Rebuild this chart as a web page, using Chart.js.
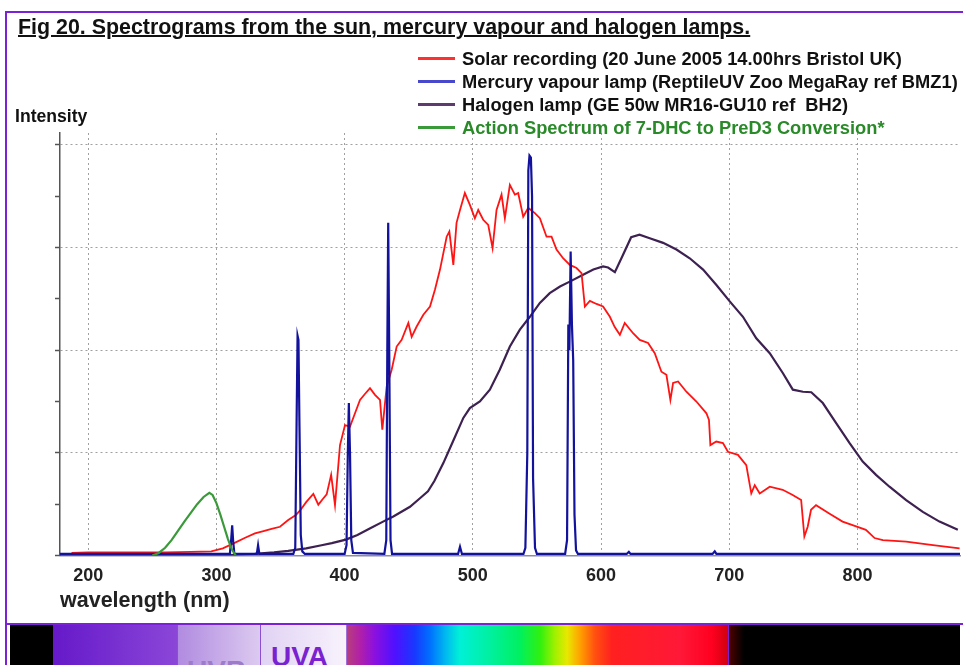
<!DOCTYPE html>
<html>
<head>
<meta charset="utf-8">
<script src="https://cdn.jsdelivr.net/npm/chart.js@4.4.1/dist/chart.umd.min.js"></script>
<style>
html,body{margin:0;padding:0;background:#fff;}
body{width:963px;height:665px;overflow:hidden;position:relative;font-family:"Liberation Sans",Arial,sans-serif;}
#frame{position:absolute;left:5px;top:11px;width:990px;height:700px;border-left:2px solid #7b22d8;border-top:2px solid #7b22d8;}
#wrap{position:absolute;left:0;top:0;width:963px;height:620px;}
#title{position:absolute;left:18px;top:15px;font-weight:bold;font-size:21.4px;text-decoration:underline;text-decoration-thickness:2px;color:#111;white-space:nowrap;}
#legend{position:absolute;left:418px;top:47px;}
.row{height:23px;display:flex;align-items:center;white-space:nowrap;font-weight:bold;font-size:18.3px;color:#111;}
.swatch{width:37px;height:3px;margin-right:7px;}
#ylab{position:absolute;left:15px;top:106px;font-weight:bold;font-size:17.6px;color:#111;}
#specline{position:absolute;left:7px;top:623px;width:960px;height:2px;background:#7b22d8;}
.seg{position:absolute;top:625px;height:40px;}
.sep{position:absolute;top:625px;height:40px;width:1px;background:#8a50d0;}
.band{position:absolute;font-weight:bold;font-size:28px;line-height:28px;white-space:nowrap;}
</style>
</head>
<body>
<div id="frame"></div>
<div id="wrap"><canvas id="c" width="963" height="620"></canvas></div>
<div id="title">Fig 20. Spectrograms from the sun, mercury vapour and halogen lamps.</div>
<div id="legend"></div>
<div id="ylab">Intensity</div>

<div id="specline"></div>
<div class="seg" style="left:10px;width:43px;background:#000"></div>
<div class="seg" style="left:53px;width:124px;background:linear-gradient(90deg,#6519c9,#8b46d8)"></div>
<div class="seg" style="left:177px;width:83px;background:linear-gradient(90deg,#b08ae0,#dccaf0)"></div>
<div class="seg" style="left:260px;width:86px;background:linear-gradient(90deg,#e0d2f4,#f8f2fc)"></div>
<div class="seg" style="left:346px;width:382px;background:linear-gradient(90deg,#b8407a 0%,#b020a8 3.7%,#8a10e0 7.6%,#5010ff 12.8%,#1838ff 18%,#0070ff 22%,#00b8f0 26%,#00f0d8 29.8%,#00f0a0 37.7%,#00f060 45.5%,#30f010 50.8%,#a0f000 54.7%,#e8e800 57.9%,#ffa000 61.3%,#ff5010 65.2%,#ff2020 69.6%,#ff1838 87.4%,#ff0020 95.8%,#d00010 100%)"></div>
<div class="seg" style="left:728px;width:232px;background:linear-gradient(90deg,#550000 0px,#000 16px,#000 100%)"></div>
<div class="sep" style="left:177px"></div>
<div class="sep" style="left:260px"></div>
<div class="sep" style="left:346px;background:#a070d8"></div>
<div class="sep" style="left:728px;background:#7b22d8"></div>
<div class="band" style="left:271px;top:643px;color:#7a22d0">UVA</div>
<div class="band" style="left:187px;top:657px;color:#9c7cc8">UVB</div>

<script>
// ---- data (wavelength nm, relative intensity) ----
const solarNm  = [187,200,220,240,260,280,296,305,314.6,322,330,336,343,349.6,356,362,366,370,375.6,379.5,383,386,389.5,392.5,396.4,400.3,404.2,408.1,412,416,419.8,423.7,427.6,429.4,432.8,436.7,440.6,444.5,449.7,452.3,456.2,461.4,466.6,470.5,474.4,479.6,481.7,484.8,487.3,490,493.8,497.7,501.6,504.2,508.1,512,515.4,518.5,522.4,525,528.9,532.8,535.4,539.3,543.2,548.4,552.3,557.5,561.4,565.3,570.4,575.7,580.9,584.8,587.4,591.3,596.5,601.6,606.9,610.7,614.7,618.5,625,630.2,636.7,641.9,647.1,651,654.1,656.2,660.1,666.6,674.4,682.2,684.2,685.3,689.9,695.1,699,706.8,713.3,717.2,719.9,723.8,731.6,741.7,749.5,756.1,758.6,761.2,763.8,767.7,778,788.4,796.2,806.6,813.4,819.8,838,858.9,879.7];
const solarInt = [0.5,0.6,0.6,0.6,0.6,0.7,0.8,1.4,2.5,3.4,4.3,4.7,5.2,5.6,6.9,7.9,9.0,10.4,12.0,9.9,11.0,11.9,15.7,9.8,21.5,25.4,25.1,27.7,30.3,31.5,32.6,31.3,30.3,24.5,32.9,36.2,40.7,42.0,45.3,42.6,44.6,46.9,48.5,51.8,55.7,62.1,63.1,56.6,64.8,67.3,70.6,68.3,65.7,67.3,65.4,64.4,59.9,67.3,70.3,65.7,72.2,70.3,70.6,66.0,67.7,66.7,65.7,62.1,62.1,59.6,57.9,56.6,56.0,55.0,48.5,49.6,49.0,48.5,46.5,44.5,43.0,45.3,43.3,42.0,41.4,39.4,35.8,35.2,30.3,33.6,33.9,31.9,30.0,27.7,26.4,21.5,22.2,21.9,20.2,19.6,17.6,12.1,13.7,12.1,13.4,12.8,11.8,10.8,3.7,5.6,8.9,9.8,8.2,6.6,5.9,5.0,3.4,3.0,2.7,2.0,1.4];

const mercuryNm  = [178,300,310.5,311.5,312.3,313,314,331.5,332.5,333.5,360,361.5,362.5,363.3,364,364.8,365.8,367,369,400,401.5,402.5,403.3,404.2,405.2,406.5,431,432.5,433.3,434,434.8,435.8,437,488.5,490,491.5,539.5,541,542.5,543.3,544.2,545.3,546.2,547,548.5,550,572,573.5,574.5,575.3,576.3,577.3,578.3,579.3,580.5,582,620,621.7,623,687,688.7,690,880];
const mercuryInt = [0.3,0.3,0.3,3,5.9,3,0.3,0.3,2.0,0.3,0.3,1.5,25,42.8,42,25,4,0.8,0.3,0.3,2,20,29.7,20,3,0.5,0.3,3,40,64.8,40,3,0.3,0.3,1.7,0.3,0.3,1.5,20,75,77.9,77.5,70,15,1.5,0.3,0.3,3,45,40,59.2,45,38,8,1,0.3,0.3,0.7,0.3,0.3,0.8,0.3,0.3];

const halogenNm  = [178,290,310,330,345,356,370,382,390,401,410,420,430,438,451,459,465,470,477,485,492.6,497.7,505.5,513.3,521,528.9,536.7,544.5,552.3,560,568,576,586,594,601.6,605.5,610.8,617,623.5,630,638,648.4,658.8,669.2,679.6,690,700.4,710.7,721.1,731.6,741.9,749.6,757.5,764,773,783.4,793.9,804.1,814.5,825,838,851,864,878.3];
const halogenInt = [0,0,0.1,0.3,0.6,0.9,1.4,2.0,2.4,3.1,4.0,5.3,6.6,7.6,9.5,11.2,12.5,14.5,18.0,22.5,26.8,28.7,30.0,32.3,36.2,40.7,44.0,46.5,49.2,51.1,52.4,53.4,54.7,55.7,56.3,56.1,55.2,58.5,62.0,62.5,61.8,60.9,59.6,57.9,55.7,52.7,49.5,46.5,42.3,39.4,35.5,32.3,31.9,31.8,29.7,25.8,21.9,18.3,15.7,13.4,10.8,8.5,6.6,5.0];

const actionNm  = [250,255,260,265,270,275,280,285,290,294.5,297,300,303,306,309,312,315];
const actionInt = [0,0.5,1.5,3,4.8,6.6,8.3,10,11.4,12.2,11.8,10.2,8,5.6,3.2,1.2,0];

const xTickValues = [200,300,400,500,600,700,800];
const yTickValues = [0,10,20,30,40,50,60,70,80];

const seriesLabels = [
  'Solar recording (20 June 2005 14.00hrs Bristol UK)',
  'Mercury vapour lamp (ReptileUV Zoo MegaRay ref BMZ1)',
  'Halogen lamp (GE 50w MR16-GU10 ref  BH2)',
  'Action Spectrum of 7-DHC to PreD3 Conversion*'
];
const lineColors   = ['#ff1414','#12129c','#3d2150','#3a9a3a'];
const legendColors = ['#ff3030','#4848cc','#5c3c6e','#3a9a3a'];
const textColors   = ['#111','#111','#111','#2a8a2a'];

// ---- legend (HTML) ----
const lg = document.getElementById('legend');
seriesLabels.forEach((t,i)=>{
  const r = document.createElement('div'); r.className='row'; r.style.color=textColors[i];
  const s = document.createElement('div'); s.className='swatch'; s.style.background=legendColors[i];
  const sp = document.createElement('span'); sp.textContent=t; sp.style.whiteSpace='pre';
  r.appendChild(s); r.appendChild(sp); lg.appendChild(r);
});

const pts = (xs,ys)=>xs.map((x,i)=>({x:x,y:ys[i]}));
const FONT = '"Liberation Sans", Arial, sans-serif';

new Chart(document.getElementById('c'), {
  type:'line',
  data:{datasets:[
    {label:seriesLabels[0],data:pts(solarNm,solarInt),borderColor:lineColors[0],borderWidth:1.8,order:3},
    {label:seriesLabels[1],data:pts(mercuryNm,mercuryInt),borderColor:lineColors[1],borderWidth:2.2,order:2},
    {label:seriesLabels[2],data:pts(halogenNm,halogenInt),borderColor:lineColors[2],borderWidth:2.2,order:4},
    {label:seriesLabels[3],data:pts(actionNm,actionInt),borderColor:lineColors[3],borderWidth:2.2,order:1}
  ]},
  options:{
    responsive:false, animation:false,
    layout:{padding:{left:55,top:133,right:3,bottom:6.5}},
    elements:{point:{radius:0},line:{tension:0,fill:false}},
    plugins:{legend:{display:false},tooltip:{enabled:false}},
    scales:{
      x:{type:'linear',min:178,max:880,
        afterBuildTicks:s=>{s.ticks=xTickValues.map(v=>({value:v}));},
        afterFit:s=>{s.height=58;},
        grid:{color:'#a0a0a0',lineWidth:1,drawTicks:false},
        border:{display:true,color:'#8a8aa8',width:1.5,dash:[2,3]},
        ticks:{padding:10,color:'#222',font:{family:FONT,size:18,weight:'bold'},maxRotation:0},
        title:{display:true,text:'wavelength (nm)',align:'start',color:'#222',font:{family:FONT,size:21.5,weight:'bold'},padding:{top:0,bottom:0}}
      },
      y:{type:'linear',min:0,max:82.3,
        afterBuildTicks:s=>{s.ticks=yTickValues.map(v=>({value:v}));},
        afterFit:s=>{s.width=5;},
        grid:{color:c=>(c.tick&&c.tick.value>0&&c.tick.value%20===0)?'#a0a0a0':'rgba(0,0,0,0)',
              lineWidth:1,drawTicks:true,tickLength:5,tickColor:'#555',tickBorderDash:[],tickWidth:1.5},
        border:{display:true,color:'#555',width:1.5,dash:[2,3]},
        ticks:{display:false}
      }
    }
  }
});
</script>
</body>
</html>
